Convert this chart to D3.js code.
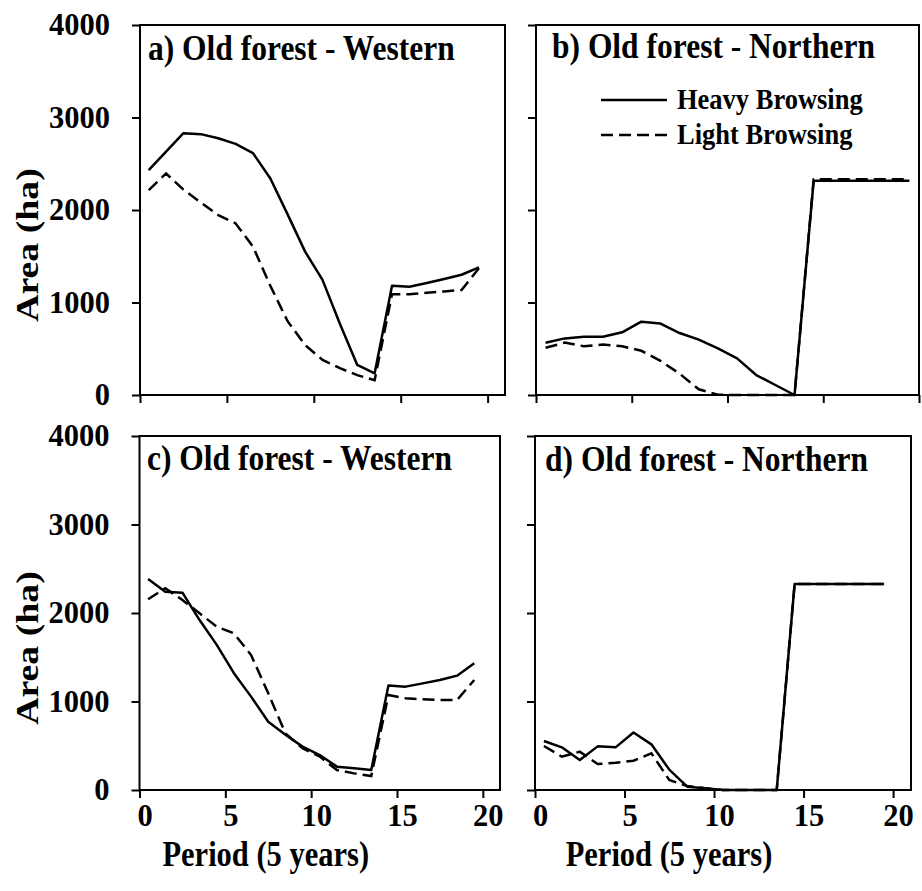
<!DOCTYPE html>
<html lang="en">
<head>
<meta charset="UTF-8">
<script src="https://d3js.org/d3.v7.min.js"></script>
<title>Old forest area</title>
<style>
  body { margin: 0; background: #fff; }
  text { font-family: "Liberation Serif", "Times New Roman", serif; font-weight: bold; fill: #000; }
</style>
</head>
<body>
<script>
// periods (mid-point of each 5-year period)
const periods = [0.5, 1.5, 2.5, 3.5, 4.5, 5.5, 6.5, 7.5, 8.5, 9.5,
                 10.5, 11.5, 12.5, 13.5, 14.5, 15.5, 16.5, 17.5, 18.5, 19.5];

// a) western, top row
const aHeavy = [2430, 2630, 2830, 2820, 2775, 2715, 2615, 2340, 1950, 1550,
                1245, 770, 325, 235, 1180, 1170, 1210, 1255, 1300, 1380];
const aLight = [2215, 2395, 2220, 2080, 1945, 1855, 1605, 1180, 795, 540,
                380, 290, 215, 160, 1090, 1090, 1105, 1120, 1135, 1370];
// b) northern, top row
const bHeavy = [565, 612, 630, 630, 678, 793, 772, 670, 598, 503,
                396, 216, 108, 0, 2317, 2317, 2317, 2317, 2317, 2317];
const bLight = [510, 566, 527, 545, 527, 478, 370, 230, 62, 3,
                0, 0, 0, 0, 2332, 2332, 2332, 2332, 2332, 2332];
// c) western, bottom row
const cHeavy = [2385, 2240, 2230, 1920, 1640, 1320, 1055, 772, 625, 490,
                395, 264, 245, 226, 1180, 1168, 1205, 1243, 1292, 1431];
const cLight = [2155, 2280, 2147, 1996, 1846, 1770, 1525, 1092, 640, 471,
                377, 226, 188, 158, 1073, 1036, 1025, 1017, 1017, 1243];
// d) northern, bottom row
const dHeavy = [554, 482, 339, 493, 482, 650, 516, 230, 38, 20,
                0, 0, 0, 0, 2328, 2328, 2328, 2328, 2328, 2328];
const dLight = [497, 376, 433, 294, 308, 331, 415, 113, 45, 19,
                0, 0, 0, 0, 2328, 2328, 2328, 2328, 2328, 2328];

const yTicks = [0, 1000, 2000, 3000, 4000];
const xTicks = [0, 5, 10, 15, 20];
const seriesNames = ["Heavy Browsing", "Light Browsing"];

const width = 922, height = 891;
const stretch = 1.15; // text in the figure is a bit taller than wide
const fontSize = 30.5;
const dash = "12,6";

const svg = d3.select("body").append("svg")
    .attr("width", width)
    .attr("height", height);

const panels = [
  {title: "a) Old forest - Western", heavy: aHeavy, light: aLight, left: 140, right: 505, top: 25, bottom: 395, xMax: 21, yLab: true, xLab: false, tx: 148, ty: 60},
  {title: "b) Old forest - Northern", heavy: bHeavy, light: bLight, left: 536, right: 919, top: 25, bottom: 395, xMax: 20, yLab: false, xLab: false, tx: 552, ty: 58, legend: true},
  {title: "c) Old forest - Western", heavy: cHeavy, light: cLight, left: 139.5, right: 500, top: 436, bottom: 790, xMax: 21, yLab: true, xLab: true, tx: 147, ty: 470},
  {title: "d) Old forest - Northern", heavy: dHeavy, light: dLight, left: 535, right: 911, top: 436, bottom: 790, xMax: 21, yLab: false, xLab: true, tx: 545, ty: 471}
];

panels.forEach(p => {
  const x = d3.scaleLinear().domain([0, p.xMax]).range([p.left, p.right]);
  const y = d3.scaleLinear().domain([0, 4000]).range([p.bottom, p.top]);
  const g = svg.append("g");

  // frame
  g.append("rect")
    .attr("x", p.left).attr("y", p.top)
    .attr("width", p.right - p.left).attr("height", p.bottom - p.top)
    .attr("fill", "none").attr("stroke", "#000").attr("stroke-width", 2);

  // y axis
  const ya = g.append("g")
    .attr("transform", `translate(${p.left},0)`)
    .call(d3.axisLeft(y).tickValues(yTicks).tickSize(8).tickSizeOuter(0).tickPadding(22)
      .tickFormat(p.yLab ? d3.format("d") : () => ""));
  ya.select(".domain").remove();
  ya.selectAll("line").attr("stroke-width", 2);
  ya.selectAll("text").attr("font-size", fontSize)
    .attr("font-family", "Liberation Serif").attr("font-weight", "bold");

  // x axis
  const xa = g.append("g")
    .attr("transform", `translate(0,${p.bottom})`)
    .call(d3.axisBottom(x).tickValues(xTicks).tickSize(8).tickSizeOuter(0).tickPadding(6)
      .tickFormat(p.xLab ? d3.format("d") : () => ""));
  xa.select(".domain").remove();
  xa.selectAll("line").attr("stroke-width", 2);
  xa.selectAll("text").attr("font-size", fontSize).attr("dx", 5)
    .attr("font-family", "Liberation Serif").attr("font-weight", "bold");

  const line = d3.line()
    .x((d, i) => x(periods[i]))
    .y(d => y(d));

  g.append("path")
    .datum(p.light)
    .attr("d", line)
    .attr("fill", "none").attr("stroke", "#000").attr("stroke-width", 2.5)
    .attr("stroke-dasharray", dash);

  g.append("path")
    .datum(p.heavy)
    .attr("d", line)
    .attr("fill", "none").attr("stroke", "#000").attr("stroke-width", 2.5)
    .attr("stroke-linejoin", "round");

  g.append("text")
    .attr("transform", `translate(${p.tx},${p.ty}) scale(1,${stretch})`)
    .attr("font-size", 31.5)
    .text(p.title);

  if (p.yLab) {
    g.append("text")
      .attr("transform", `translate(38,${(p.top + p.bottom) / 2 + 35}) scale(1,1.22) rotate(-90)`)
      .attr("text-anchor", "middle")
      .attr("font-size", 31)
      .text("Area (ha)");
  }
  if (p.xLab) {
    g.append("text")
      .attr("transform", `translate(${(p.left + p.right) / 2 - 54},866) scale(1,${stretch})`)
      .attr("text-anchor", "middle")
      .attr("font-size", fontSize)
      .text("Period (5 years)");
  }

  if (p.legend) {
    const lg = g.append("g");
    seriesNames.forEach((name, k) => {
      const ly = 100 + k * 35;
      lg.append("line")
        .attr("x1", 601).attr("x2", 667).attr("y1", ly).attr("y2", ly)
        .attr("stroke", "#000").attr("stroke-width", 2.5)
        .attr("stroke-dasharray", k === 0 ? null : dash);
      lg.append("text")
        .attr("transform", `translate(677,${ly + 9}) scale(1,${stretch})`)
        .attr("font-size", 26.5)
        .text(name);
    });
  }
});
</script>
</body>
</html>
